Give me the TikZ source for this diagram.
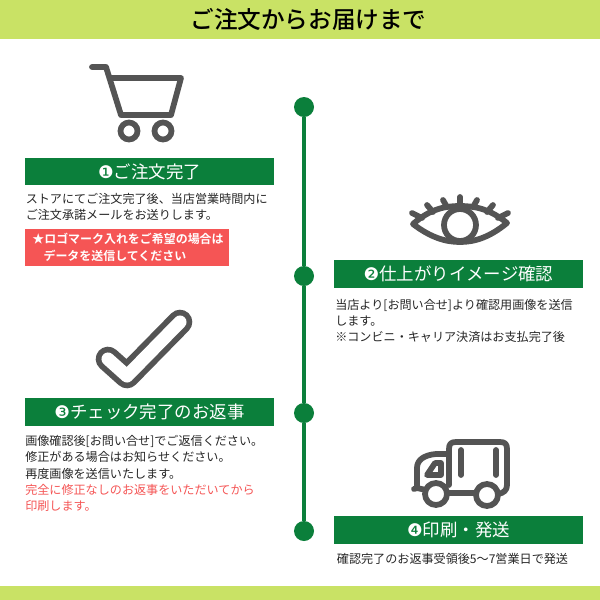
\documentclass[tikz,border=0pt]{standalone}
\usepackage{fontspec}
\usepackage{xcolor}
\setmainfont{Noto Sans CJK JP}
\newfontfamily\numfont{DejaVu Sans}
\newfontfamily\boldjp{Noto Sans CJK JP Bold}
\newfontfamily\midjp{Noto Sans CJK JP Medium}
\usetikzlibrary{positioning}
\definecolor{lime}{HTML}{C9E265}
\definecolor{leaf}{HTML}{0B7F3B}
\definecolor{coral}{HTML}{F55555}
\definecolor{ink}{HTML}{262626}
\definecolor{icongray}{HTML}{545454}
\tikzset{
  bar/.style={fill=lime,draw=none,minimum width=15cm,inner sep=0pt},
  banner/.style={fill=leaf,draw=none,text=white,minimum width=6.22cm,minimum height=0.69cm,inner sep=0pt,font={\fontsize{12.4}{14}\selectfont}},
  dot/.style={circle,fill=leaf,draw=none,minimum size=0.5cm,inner sep=0pt},
  note/.style={text=ink,align=left,inner sep=0pt,anchor=west,font={\fontsize{8.6}{11.6}\selectfont}},
  alert/.style={fill=coral,text=white,align=left,inner sep=0pt,minimum width=5.11cm,minimum height=0.925cm,font={\boldjp\fontsize{8.5}{11.6}\selectfont}},
  icon/.style={draw=icongray,line width=4.1pt,line cap=round,line join=round},
  link/.style={draw=leaf,line width=2.8pt}
}
\begin{document}
\begin{tikzpicture}[x=0.025cm,y=-0.025cm]
    \useasboundingbox (0,0) rectangle (600,600);
    \fill[white] (0,0) rectangle (600,600);

    \node[bar,minimum height=0.975cm] (top) at (300,19.5) {};
    \node[text=black,inner sep=0pt,font={\midjp\fontsize{16.8}{20}\selectfont}] (title) at (308.5,19.5) {ご注文からお届けまで};
    \node[bar,minimum height=0.35cm] (bottom) at (300,593) {};

    \node[dot] (d1) at (304,107) {};
    \node[dot] (d2) at (304,276) {};
    \node[dot] (d3) at (304,413) {};
    \node[dot] (d4) at (304,531) {};

    \draw [link] (d1) to (d2);
    \draw [link] (d2) to (d3);
    \draw [link] (d3) to (d4);

    \node[banner] (b1) at (149.5,171.5) {{\numfont ❶}ご注文完了};
    \node[banner] (b2) at (458.5,274) {{\numfont ❷}仕上がりイメージ確認};
    \node[banner] (b3) at (149.5,412) {{\numfont ❸}チェック完了のお返事};
    \node[banner] (b4) at (458.5,530) {{\numfont ❹}印刷・発送};

    \node[note] (t1) at (25.5,207) {ストアにてご注文完了後、当店営業時間内に\\ご注文承諾メールをお送りします。};
    \node[alert] (r1) at (127.2,247.5) {\hspace{0.04cm}★ロゴマーク入れをご希望の場合は\\\hspace{0.32cm}データを送信してください};
    \node[note] (t2) at (335,321) {当店より[お問い合せ]より確認用画像を送信\\します。\\※コンビニ・キャリア決済はお支払完了後};
    \node[note] (t3) at (25,473.5) {画像確認後[お問い合せ]でご返信ください。\\修正がある場合はお知らせください。\\再度画像を送信いたします。\\\textcolor{coral}{完全に修正なしのお返事をいただいてから}\\\textcolor{coral}{印刷します。}};
    \node[note,anchor=center] (t4) at (452.5,559) {確認完了のお返事受領後5〜7営業日で発送};

    \draw [icon] (92,67) -- (106,67) -- (121,115) -- (171,115) -- (181,78) -- (111,78);
    \draw [icon] (129,131) circle (8.5);
    \draw [icon] (163,131) circle (8.5);

    \draw [icon] (413,224) .. controls (430,209) and (445,206) .. (460,206) .. controls (475,206) and (490,209) .. (507,223) .. controls (490,237) and (475,242) .. (460,242) .. controls (445,242) and (430,237) .. (413,224) -- cycle;
    \draw [icon] (460,225) circle (16);
    \draw [icon] (460,197) -- (460,205);
    \draw [icon] (443,200) -- (447,207);
    \draw [icon] (427,205) -- (433,212);
    \draw [icon] (412,213) -- (422,218);
    \draw [icon] (477,200) -- (473,207);
    \draw [icon] (493,205) -- (487,212);
    \draw [icon] (508,213) -- (498,218);

    \draw [icon,double=white,double distance=9.3pt] (108,359) -- (127,376) -- (180,322);

    \draw [icon] (449,485) -- (449,449) .. controls (449,444) and (451,442) .. (456,442) -- (500,442) .. controls (505,442) and (507,444) .. (507,449) -- (507,485) .. controls (507,490) and (504,493) .. (498,494);
    \draw [icon] (449,454) -- (436,454) .. controls (424,455) and (417,460) .. (417,468) -- (417,488) -- (414,489);
    \draw [icon] (417,488) -- (426,490);
    \draw [icon] (447,493) -- (476,493);
    \draw [icon] (427,475) -- (441,475) -- (441,463) -- (435,463) -- cycle;
    \draw [icon] (461,450) -- (461,475);
    \draw [icon] (496,450) -- (496,475);
    \draw [icon,fill=white] (436,494) circle (11);
    \draw [icon,fill=white] (487,495) circle (11);
\end{tikzpicture}
\end{document}
